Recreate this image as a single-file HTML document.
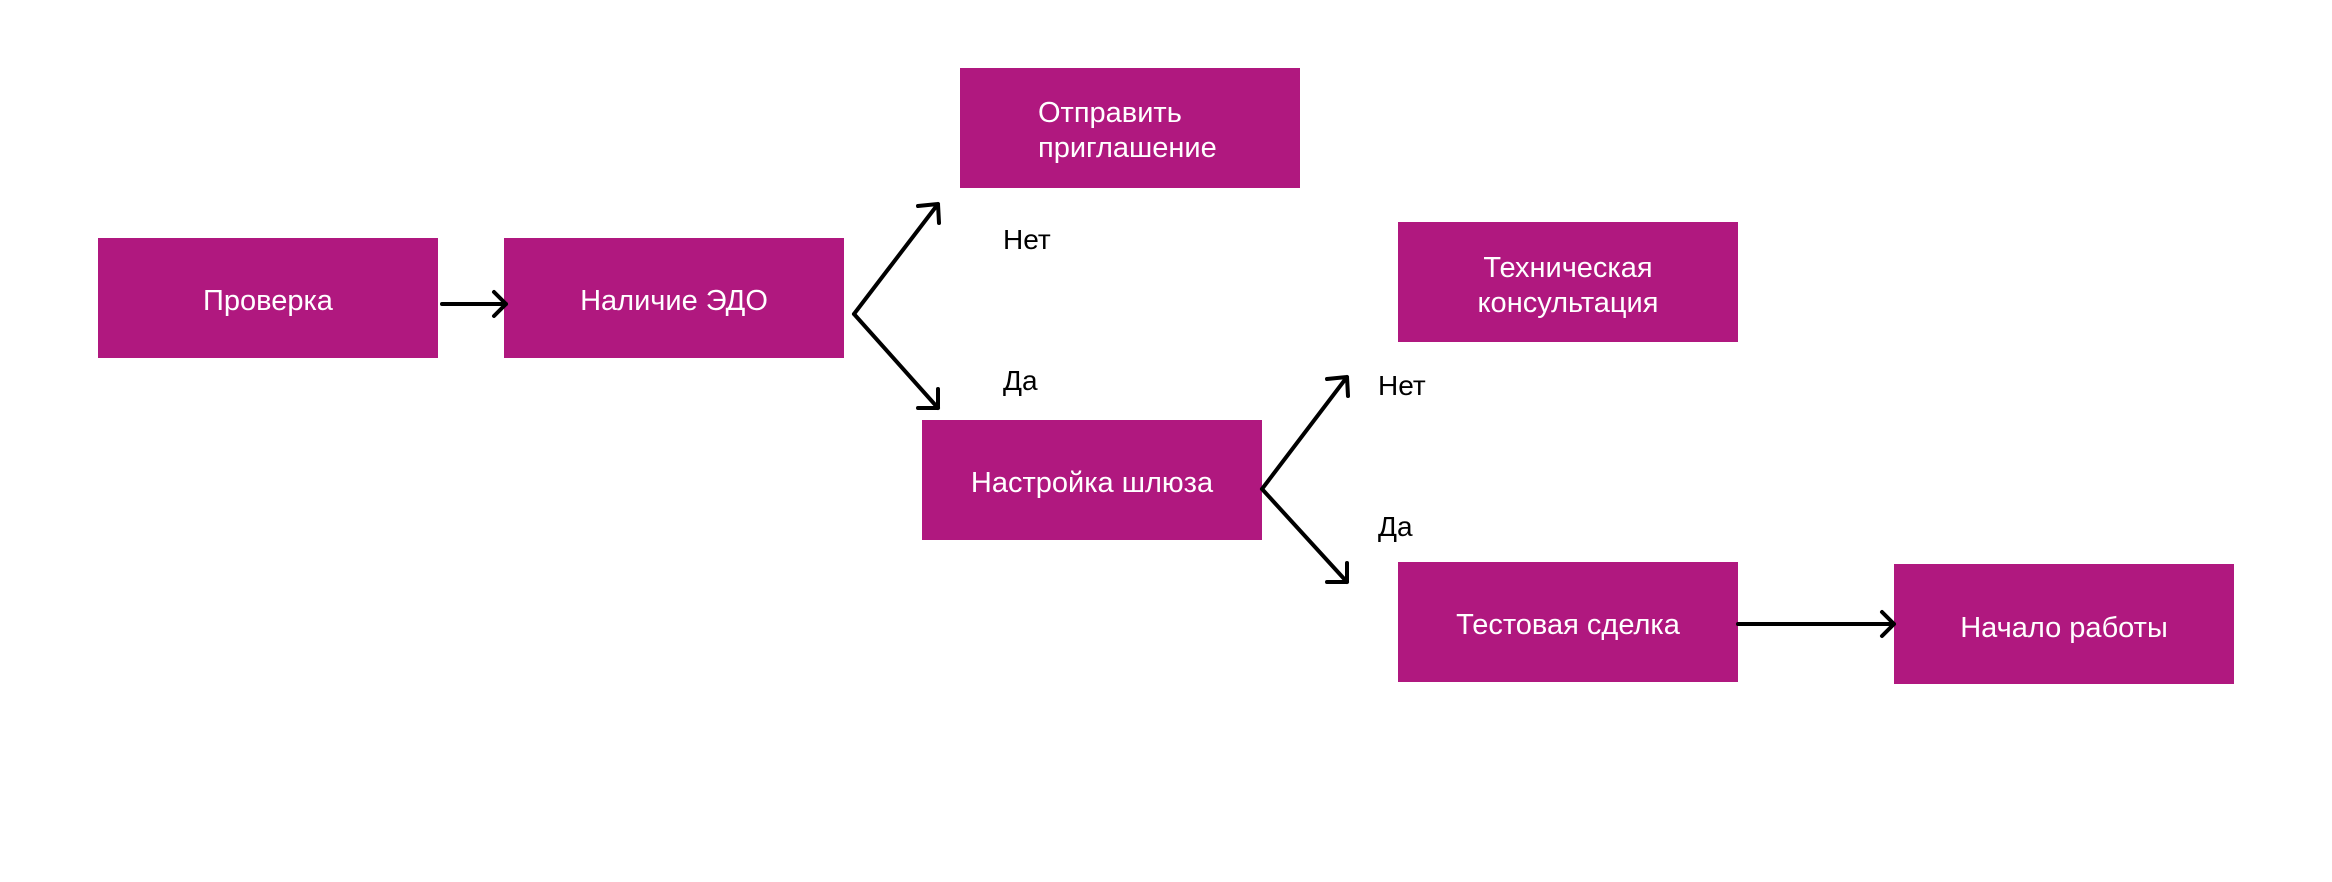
<!DOCTYPE html>
<html><head><meta charset="utf-8"><style>
html,body{margin:0;padding:0;background:#fff;}
svg{display:block;}
text{font-family:"Liberation Sans",sans-serif;font-size:29px;}
.lab{font-size:28px;}
.b{fill:#B0187F;}
.w{fill:#fff;}
.l{stroke:#000;stroke-width:4;fill:none;stroke-linecap:round;stroke-linejoin:round;}
</style></head><body>
<svg width="2332" height="882" viewBox="0 0 2332 882" xmlns="http://www.w3.org/2000/svg">
<rect class="b" x="98" y="238" width="340" height="120"/>
<rect class="b" x="504" y="238" width="340" height="120"/>
<rect class="b" x="960" y="68" width="340" height="120"/>
<rect class="b" x="922" y="420" width="340" height="120"/>
<rect class="b" x="1398" y="222" width="340" height="120"/>
<rect class="b" x="1398" y="562" width="340" height="120"/>
<rect class="b" x="1894" y="564" width="340" height="120"/>

<text class="w" x="268" y="310" text-anchor="middle">Проверка</text>
<text class="w" x="674" y="310" text-anchor="middle">Наличие ЭДО</text>
<text class="w" x="1038" y="122">Отправить</text>
<text class="w" x="1038" y="157">приглашение</text>
<text class="w" x="1092" y="492" text-anchor="middle">Настройка шлюза</text>
<text class="w" x="1568" y="277" text-anchor="middle">Техническая</text>
<text class="w" x="1568" y="312" text-anchor="middle">консультация</text>
<text class="w" x="1568" y="634" text-anchor="middle">Тестовая сделка</text>
<text class="w" x="2064" y="637" text-anchor="middle">Начало работы</text>

<text class="lab" x="1003" y="249">Нет</text>
<text class="lab" x="1003" y="390">Да</text>
<text class="lab" x="1378" y="395">Нет</text>
<text class="lab" x="1378" y="536">Да</text>

<path class="l" d="M442 304 H506 M494 292 L506 304 L494 316"/>
<path class="l" d="M854 314 L938 204 M918 206 L938 204 L939 223"/>
<path class="l" d="M854 314 L938 408 M918 408 L938 408 L938 389"/>
<path class="l" d="M1262 489 L1347 377 M1327 379 L1347 377 L1348 396"/>
<path class="l" d="M1262 489 L1347 582 M1327 582 L1347 582 L1347 563"/>
<path class="l" d="M1738 624 H1894 M1882 612 L1894 624 L1882 636"/>
</svg>
</body></html>
